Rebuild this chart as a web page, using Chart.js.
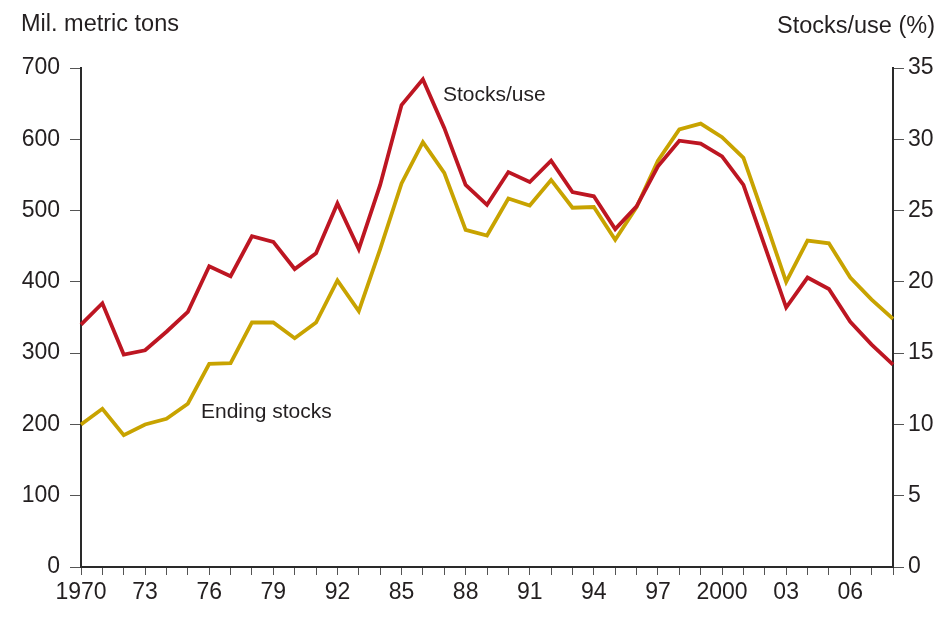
<!DOCTYPE html>
<html>
<head>
<meta charset="utf-8">
<script src="https://cdn.jsdelivr.net/npm/chart.js@4/dist/chart.umd.min.js"></script>
<style>
  html, body { margin: 0; padding: 0; background: #ffffff; }
  #wrap { width: 940px; height: 622px; }
</style>
</head>
<body>
<div id="wrap"><canvas id="c" width="940" height="622"></canvas></div>
<script>
// ---- Data ----
const years = [1970,1971,1972,1973,1974,1975,1976,1977,1978,1979,1980,1981,1982,1983,1984,1985,1986,1987,1988,1989,1990,1991,1992,1993,1994,1995,1996,1997,1998,1999,2000,2001,2002,2003,2004,2005,2006,2007,2008];

// Ending stocks, million metric tons (left axis)
const endingStocks = [200,222,185,200,208,229,285,286,343,343,321,343,402,359,446,538,596,553,473,465,517,507,543,504,505,459,505,570,614,622,603,574,488,400,458,454,406,375,348];

// Stocks-to-use ratio, percent (right axis)
const stocksUse = [17.0,18.5,14.9,15.2,16.5,17.9,21.1,20.4,23.2,22.8,20.9,22.0,25.5,22.3,26.8,32.4,34.2,30.8,26.8,25.4,27.7,27.0,28.5,26.3,26.0,23.7,25.3,28.1,29.9,29.7,28.8,26.8,22.5,18.2,20.3,19.5,17.2,15.6,14.2];

// x tick labels shown every third year (as printed in the original)
const xTickLabels = ['1970','73','76','79','92','85','88','91','94','97','2000','03','06'];

const leftAxisTitle = 'Mil. metric tons';
const rightAxisTitle = 'Stocks/use (%)';
const seriesNames = ['Stocks/use', 'Ending stocks'];

// ---- Styling ----
const FONT = '"Liberation Sans", Arial, Helvetica, sans-serif';
const TXT = '#231f20';
const RED = '#bd1622';
const GOLD = '#c8a300';

const textPlugin = {
  id: 'texts',
  afterDraw(chart) {
    const ctx = chart.ctx;
    ctx.save();
    ctx.fillStyle = TXT;
    ctx.textBaseline = 'middle';
    ctx.font = '23.5px ' + FONT;
    ctx.textAlign = 'left';
    ctx.fillText(leftAxisTitle, 21, 25);
    ctx.textAlign = 'right';
    ctx.fillText(rightAxisTitle, 935, 27);
    ctx.font = '21px ' + FONT;
    ctx.textAlign = 'left';
    ctx.fillText(seriesNames[0], 443, 95);
    ctx.fillText(seriesNames[1], 201, 412);
    ctx.restore();
  }
};

new Chart(document.getElementById('c'), {
  type: 'line',
  data: {
    labels: years,
    datasets: [
      {
        label: seriesNames[0],
        data: stocksUse,
        yAxisID: 'y1',
        borderColor: RED,
        borderWidth: 3.8,
        pointRadius: 0,
        tension: 0,
        borderJoinStyle: 'miter',
        fill: false
      },
      {
        label: seriesNames[1],
        data: endingStocks,
        yAxisID: 'y',
        borderColor: GOLD,
        borderWidth: 3.8,
        pointRadius: 0,
        tension: 0,
        borderJoinStyle: 'miter',
        fill: false
      }
    ]
  },
  options: {
    responsive: false,
    animation: false,
    devicePixelRatio: 1,
    layout: { padding: { top: 68, left: 0, right: 0, bottom: 0 } },
    plugins: {
      legend: { display: false },
      tooltip: { enabled: false },
      title: { display: false }
    },
    scales: {
      x: {
        type: 'category',
        offset: false,
        afterFit(s) { s.height = 55; },
        grid: {
          drawOnChartArea: false,
          drawTicks: true,
          tickLength: 8,
          color: '#555',
          lineWidth: 1
        },
        border: { display: true, color: '#2a2a2a', width: 2 },
        ticks: {
          autoSkip: false,
          maxRotation: 0,
          minRotation: 0,
          padding: 4,
          color: TXT,
          font: { family: FONT, size: 23 },
          callback: (v, i) => (i % 3 === 0 ? xTickLabels[i / 3] : '')
        }
      },
      y: {
        position: 'left',
        min: 0,
        max: 700,
        afterFit(s) { s.width = 81; },
        grid: {
          drawOnChartArea: false,
          drawTicks: true,
          tickLength: 11,
          color: '#555',
          lineWidth: 1
        },
        border: { display: true, color: '#2a2a2a', width: 2 },
        ticks: {
          stepSize: 100,
          padding: 10,
          color: TXT,
          font: { family: FONT, size: 23 }
        }
      },
      y1: {
        position: 'right',
        min: 0,
        max: 35,
        afterFit(s) { s.width = 47; },
        grid: {
          drawOnChartArea: false,
          drawTicks: true,
          tickLength: 11,
          color: '#555',
          lineWidth: 1
        },
        border: { display: true, color: '#2a2a2a', width: 2 },
        ticks: {
          stepSize: 5,
          padding: 4,
          color: TXT,
          font: { family: FONT, size: 23 }
        }
      }
    }
  },
  plugins: [textPlugin]
});
</script>
</body>
</html>
